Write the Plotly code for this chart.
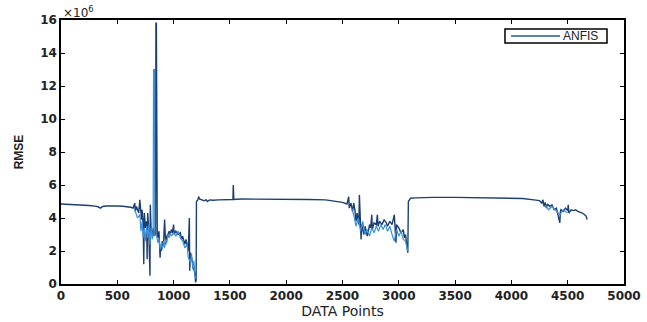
import plotly.graph_objects as go

# ANFIS series (values in units of 1e6)
anfis_x = [0, 50, 100, 150, 200, 250, 300, 330, 350, 370, 400, 450, 500, 550, 600, 620, 640, 655, 660, 670,
           680, 690, 700, 705, 715, 720, 730, 735, 740, 750, 760, 765, 770, 780, 790, 793, 800, 810, 820, 825,
           830, 835, 840, 843, 847, 855, 860, 870, 875, 880, 885, 890, 900, 910, 920, 925, 930, 940, 950, 960,
           970, 980, 990, 1000, 1005, 1020, 1040, 1060, 1070, 1080, 1090, 1100, 1110, 1120, 1130, 1140, 1143,
           1150, 1160, 1170, 1180, 1190, 1195, 1200, 1203, 1215, 1222, 1230, 1250, 1270, 1290, 1300, 1320,
           1350, 1400, 1450, 1500, 1527, 1530, 1535, 1600, 1800, 2000, 2200, 2350, 2400, 2450, 2500, 2540,
           2555, 2560, 2575, 2590, 2600, 2610, 2620, 2630, 2645, 2650, 2655, 2665, 2670, 2680, 2690, 2700,
           2710, 2720, 2730, 2740, 2750, 2760, 2765, 2780, 2800, 2810, 2815, 2830, 2850, 2870, 2890, 2900,
           2920, 2940, 2960, 2965, 2975, 2980, 3000, 3020, 3040, 3050, 3060, 3070, 3080, 3085, 3095, 3105,
           3150, 3200, 3300, 3500, 3700, 3900, 4000, 4100, 4200, 4250, 4270, 4280, 4290, 4300, 4310, 4320,
           4340, 4360, 4380, 4400, 4410, 4430, 4435, 4440, 4460, 4480, 4500, 4505, 4510, 4530, 4550, 4570,
           4590, 4610, 4630, 4650, 4665, 4672]
anfis_y = [4.85, 4.84, 4.83, 4.81, 4.79, 4.76, 4.72, 4.68, 4.60, 4.70, 4.73, 4.74, 4.73, 4.71, 4.69, 4.65, 4.60, 4.90, 4.40, 4.70,
           4.50, 4.30, 5.10, 4.40, 3.90, 4.50, 3.60, 1.20, 4.30, 3.40, 3.80, 1.50, 4.30, 3.20, 0.50, 4.80, 3.30, 3.00, 3.40, 2.90,
           3.20, 3.00, 3.00, 15.80, 15.80, 3.00, 2.80, 3.20, 2.60, 1.60, 2.30, 2.00, 2.60, 2.30, 3.90, 2.60, 2.40, 2.90, 3.00, 3.20,
           3.00, 3.30, 3.10, 3.60, 3.00, 3.20, 3.00, 3.10, 2.70, 2.90, 2.60, 2.40, 2.70, 2.20, 2.00, 4.00, 0.80,
           1.90, 1.50, 1.20, 0.90, 0.60, 0.10, 0.20, 5.00, 5.10, 5.30, 5.15, 5.10, 5.05, 5.10, 5.00, 5.10,
           5.08, 5.10, 5.12, 5.12, 5.12, 6.00, 5.12, 5.15, 5.15, 5.14, 5.12, 5.10, 5.05, 5.00, 4.95, 4.85,
           5.30, 4.60, 4.90, 4.40, 4.90, 4.50, 3.80, 4.30, 3.60, 5.40, 4.20, 2.70, 3.60, 3.30, 3.00, 3.50,
           3.10, 2.90, 3.20, 3.60, 3.40, 4.20, 3.30, 3.70, 3.60, 4.20, 3.50, 3.80, 3.60, 3.90, 3.70, 3.50,
           3.80, 3.60, 4.20, 3.20, 2.50, 3.60, 3.40, 3.10, 3.30, 2.80, 3.00, 2.40, 1.90, 5.00, 5.10, 5.20,
           5.22, 5.24, 5.25, 5.25, 5.24, 5.23, 5.22, 5.18, 5.10, 5.05, 4.90, 5.10, 4.70, 4.95, 4.60, 4.85,
           4.70, 4.80, 4.50, 4.60, 4.30, 3.70, 4.40, 4.50, 4.40, 4.60, 4.45, 4.80, 4.30, 4.50, 4.45, 4.50,
           4.40, 4.35, 4.30, 4.20, 4.10, 3.90]

# lighter companion series (values in units of 1e6), segments separated by None
light_x = [650, 680, 700, 710, 720, 730, 740, 750, 760, 770, 780, 790, 800, 810, 818, 822, 830, 833, 850, 860,
           870, 880, 890, 900, 910, 920, 930, 940, 950, 960, 970, 980, 1000, 1020, 1040, 1060, 1080, 1100, 1120,
           1130, 1150, 1160, 1170, 1180, 1190, 1200, None,
           2580, 2600, 2620, 2640, 2660, 2680, 2700, 2720, 2740, 2760, 2780, 2800, 2820, 2840, 2860, 2880, 2900,
           2920, 2940, 2960, 2980, 3000, 3020, 3040, 3060, 3070, 3080, None,
           4300, 4330, 4360, 4400, 4430, 4460, 4500]
light_y = [4.60, 4.00, 4.20, 3.20, 3.80, 2.80, 3.40, 2.60, 3.50, 2.80, 3.60, 2.40, 3.40, 2.70, 3.00, 13.00, 13.00, 3.00, 2.90, 2.50,
           2.80, 2.10, 2.40, 2.10, 2.60, 2.20, 2.70, 2.50, 3.00, 2.80, 3.10, 2.90, 3.10, 2.90, 3.20, 2.80, 2.60, 2.20, 2.40,
           1.60, 1.30, 1.80, 0.90, 1.40, 0.50, 0.30, None,
           4.60, 4.20, 3.50, 4.00, 3.20, 3.80, 3.00, 3.30, 2.90, 3.40, 3.10, 3.50, 3.20, 3.60, 3.30, 3.60, 3.20,
           3.50, 3.00, 2.60, 3.30, 2.90, 3.20, 2.70, 2.60, 2.20, 2.00, None,
           4.80, 4.50, 4.70, 4.40, 4.20, 4.50, 4.30]

x_ticks = [0, 500, 1000, 1500, 2000, 2500, 3000, 3500, 4000, 4500, 5000]
y_ticks = [0, 2, 4, 6, 8, 10, 12, 14, 16]

ANFIS_COLOR = "#1c3f72"

fig = go.Figure()
fig.add_trace(go.Scatter(x=anfis_x, y=anfis_y, mode="lines", name="ANFIS", showlegend=False,
                         line=dict(color=ANFIS_COLOR, width=1.4)))
fig.add_trace(go.Scatter(x=light_x, y=light_y, mode="lines", showlegend=False,
                         line=dict(color="#3b8fd6", width=1.2), connectgaps=False))

tickfont = dict(family="DejaVu Sans, sans-serif", size=12, color="#222", weight="bold")
fig.update_xaxes(range=[0, 5000], tickvals=x_ticks, ticks="inside", ticklen=4, mirror="ticks",
                 showline=True, linecolor="black", linewidth=1.5, showgrid=False, zeroline=False,
                 tickfont=tickfont, tickcolor="black", automargin=False,
                 title=dict(text="DATA Points", font=dict(family="DejaVu Sans", size=14, color="#222"),
                            standoff=2))
fig.update_yaxes(range=[0, 16], tickvals=y_ticks, ticks="inside", ticklen=4, mirror="ticks",
                 showline=True, linecolor="black", linewidth=1.5, showgrid=False, zeroline=False,
                 tickfont=tickfont, tickcolor="black", automargin=False,
                 title=dict(text="RMSE", font=dict(family="Liberation Sans, Arial", size=12, color="#222",
                                                   weight="bold"),
                            standoff=14))
fig.add_annotation(text="×10<sup>6</sup>", xref="paper", yref="paper", x=0.0, y=1.0,
                   xanchor="left", yanchor="bottom", showarrow=False, yshift=-2,
                   font=dict(family="DejaVu Sans", size=12, color="#222"))

# legend box drawn in paper coordinates
fig.add_shape(type="rect", xref="paper", yref="paper", x0=0.7886, x1=0.9698, y0=0.9129, y1=0.9659,
              line=dict(color="black", width=1.5), fillcolor="white")
fig.add_shape(type="line", xref="paper", yref="paper", x0=0.7993, x1=0.8863, y0=0.9394, y1=0.9394,
              line=dict(color="#2a5a8c", width=1.5))
fig.add_annotation(text="ANFIS", xref="paper", yref="paper", x=0.8880, y=0.9394,
                   xanchor="left", yanchor="middle", showarrow=False,
                   font=dict(family="Liberation Sans, Arial", size=12, color="#222"))

fig.update_layout(width=647, height=322, margin=dict(l=61, r=23, t=20, b=38),
                  plot_bgcolor="white", paper_bgcolor="white", showlegend=False)
fig.write_html("out.html")
